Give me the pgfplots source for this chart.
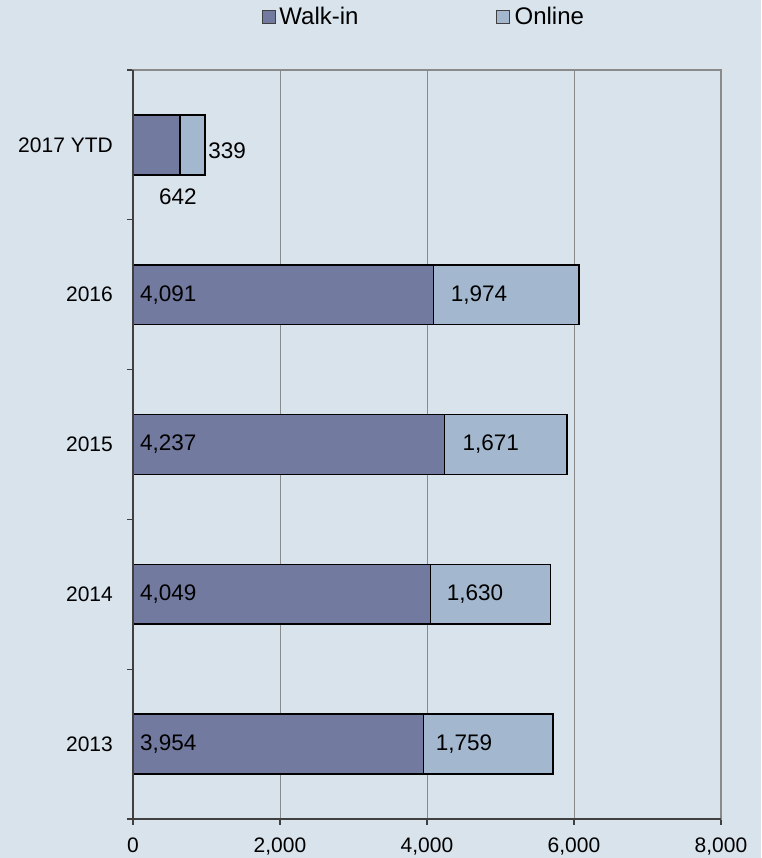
\documentclass[border=0pt]{standalone}
\usepackage{fontspec}
\setmainfont{Liberation Sans}
\usepackage{pgfplots}
\pgfplotsset{compat=1.18}
\definecolor{bg}{HTML}{D9E3EC}
\definecolor{walkin}{HTML}{737AA0}
\definecolor{online}{HTML}{A3B8CE}
\definecolor{gridc}{HTML}{8A8A8A}
\definecolor{axc}{HTML}{404040}
\newcommand{\tickfont}{\fontsize{21}{25}\selectfont}
\newcommand{\valfont}{\fontsize{22.5}{27}\selectfont}
\tikzset{val/.style={anchor=west, font=\valfont, inner sep=0pt}}
\begin{document}
\begin{tikzpicture}
\fill[bg] (-133pt,-39pt) rectangle (628pt,819pt);
\useasboundingbox (-133pt,-39pt) rectangle (628pt,819pt);
\begin{axis}[
  at={(0,0)}, anchor=south west,
  scale only axis, width=588pt, height=749pt,
  xbar stacked, bar width=0.4,
  xmin=0, xmax=8000, ymin=-0.5, ymax=4.5,
  xtick={0,2000,4000,6000,8000},
  scaled x ticks=false,
  xticklabel style={/pgf/number format/1000 sep={,}, /pgf/number format/assume math mode=true,
    font=\tickfont, inner sep=0pt, anchor=north, yshift=-13pt},
  ytick={0,1,2,3,4},
  yticklabels={2013,2014,2015,2016,2017 YTD},
  yticklabel style={font=\tickfont, inner sep=0pt, anchor=east, xshift=-14pt},
  minor ytick={-0.5,0.5,1.5,2.5,3.5,4.5},
  tick pos=left, tick align=outside,
  major tick length=6pt, minor tick length=6pt,
  tick style={axc, line width=1.2pt},
  every major y tick/.append style={draw=none},
  xmajorgrids, grid style={gridc, line width=0.8pt},
  axis line style={gridc, line width=1.8pt},
  legend columns=2,
  legend style={at={(0.219,1.071)}, anchor=west, draw=none, fill=none, inner sep=0pt,
    font=\fontsize{24}{28}\selectfont, nodes={inner sep=1.5pt},
    /tikz/every even column/.append style={column sep=136pt}},
  legend image code/.code={\draw[#1, draw=axc, line width=1pt] (0pt,-6.5pt) rectangle (13pt,6.5pt);},
]
\addplot[fill=walkin, draw=black, line width=1.6pt] coordinates {(3954,0) (4049,1) (4237,2) (4091,3) (642,4)};
\addplot[fill=online, draw=black, line width=1.6pt] coordinates {(1759,0) (1630,1) (1671,2) (1974,3) (339,4)};
\legend{\hspace{2pt}Walk-in, \hspace{3pt}Online}
\coordinate (o0) at (axis cs:0,0);
\coordinate (o1) at (axis cs:0,1);
\coordinate (o2) at (axis cs:0,2);
\coordinate (o3) at (axis cs:0,3);
\coordinate (w0) at (axis cs:3954,0);
\coordinate (w1) at (axis cs:4049,1);
\coordinate (w2) at (axis cs:4237,2);
\coordinate (w3) at (axis cs:4091,3);
\coordinate (t4) at (axis cs:981,4);
\coordinate (b4) at (axis cs:612,3.652);
\coordinate (tl) at (rel axis cs:0,1);
\coordinate (bl) at (rel axis cs:0,0);
\coordinate (br) at (rel axis cs:1,0);
\end{axis}
\draw[axc, line width=1.5pt] (tl) -- (bl) -- (br);
\node[val, xshift=7pt] at (o0) {3,954};
\node[val, xshift=7pt] at (o1) {4,049};
\node[val, xshift=7pt] at (o2) {4,237};
\node[val, xshift=7pt] at (o3) {4,091};
\node[val, xshift=12pt] at (w0) {1,759};
\node[val, xshift=16pt] at (w1) {1,630};
\node[val, xshift=18pt] at (w2) {1,671};
\node[val, xshift=17pt] at (w3) {1,974};
\node[val, xshift=3pt, yshift=-6pt] at (t4) {339};
\node[val, anchor=center] at (b4) {642};
\end{tikzpicture}
\end{document}
